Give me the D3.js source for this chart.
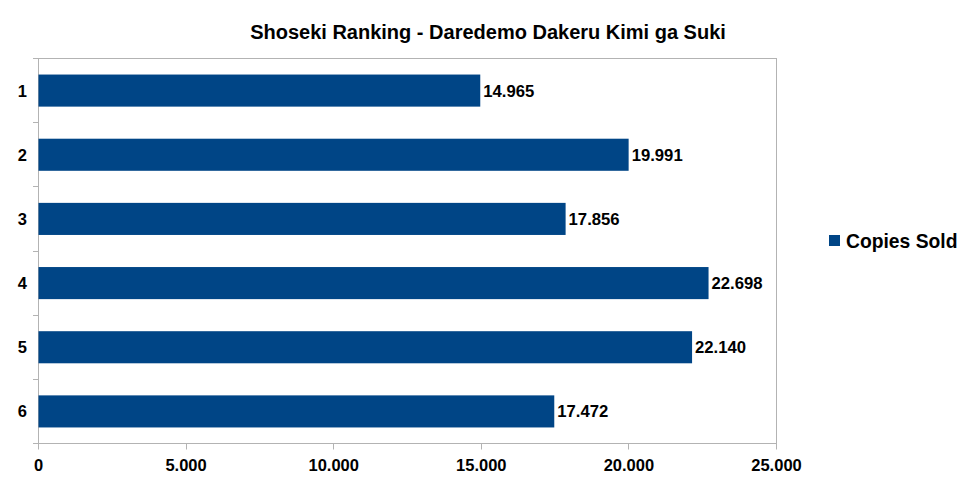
<!DOCTYPE html>
<html><head><meta charset="utf-8">
<script src="https://cdn.jsdelivr.net/npm/d3@7"></script>
<style>body{margin:0;background:#fff}svg{display:block;font-family:"Liberation Sans",Arial,sans-serif}</style>
</head><body><svg id="c" width="976" height="483"></svg>
<script>
const title = "Shoseki Ranking - Daredemo Dakeru Kimi ga Suki";
const categories = ["1","2","3","4","5","6"];
const copiesSold = [14965, 19991, 17856, 22698, 22140, 17472];
const xTicks = [0, 5000, 10000, 15000, 20000, 25000];
const seriesName = "Copies Sold";

const svg = d3.select("#c");
const L = 38.5, R = 776.5, T = 58.5, B = 443.5;
const color = "#004586", axisCol = "#b3b3b3";
const fmtTick = v => v === 0 ? "0" : d3.format(",")(v).replace(/,/g,".");
const fmtVal = v => d3.format(",")(v).replace(/,/g,".");

const x = d3.scaleLinear().domain([0, 25000]).range([L, R]);
const y = d3.scaleBand().domain(categories).range([T, B]).paddingInner(0.5).paddingOuter(0.25);
const yb = d3.scaleBand().domain(categories).range([T, B]);

svg.append("text").attr("x", 488).attr("y", 39).attr("text-anchor","middle")
  .attr("font-size", 20).attr("font-weight","bold").text(title);

// frame
svg.append("rect").attr("x", L).attr("y", T).attr("width", R-L).attr("height", B-T)
  .attr("fill","none").attr("stroke", axisCol).attr("stroke-width",1);

// bars
svg.selectAll("rect.bar").data(categories).join("rect").attr("class","bar")
  .attr("x", L).attr("y", d => y(d)).attr("width", (d,i) => x(copiesSold[i]) - L)
  .attr("height", y.bandwidth()).attr("fill", color);

// value labels
svg.selectAll("text.val").data(categories).join("text").attr("class","val")
  .attr("x", (d,i) => x(copiesSold[i]) + 3).attr("y", d => y(d) + y.bandwidth()/2 + 6)
  .attr("font-size", 16.7).attr("font-weight","bold").text((d,i) => fmtVal(copiesSold[i]));

// left ticks
const bounds = categories.map(c => yb(c)).concat([B]);
svg.selectAll("line.lt").data(bounds).join("line").attr("class","lt")
  .attr("x1", L-5.5).attr("x2", L).attr("y1", d => Math.round(d-0.5)+0.5).attr("y2", d => Math.round(d-0.5)+0.5)
  .attr("stroke", axisCol);
svg.selectAll("text.cat").data(categories).join("text").attr("class","cat")
  .attr("x", 27).attr("y", d => yb(d) + yb.bandwidth()/2 + 6).attr("text-anchor","end")
  .attr("font-size", 16.5).attr("font-weight","bold").text(d => d);

// bottom ticks
svg.selectAll("line.bt").data(xTicks).join("line").attr("class","bt")
  .attr("x1", d => Math.round(x(d)-0.5)+0.5).attr("x2", d => Math.round(x(d)-0.5)+0.5)
  .attr("y1", B).attr("y2", B+6).attr("stroke", axisCol);
svg.selectAll("text.xt").data(xTicks).join("text").attr("class","xt")
  .attr("x", d => x(d)).attr("y", 471).attr("text-anchor","middle")
  .attr("font-size", 16.5).attr("font-weight","bold").text(d => fmtTick(d));

// legend
svg.append("rect").attr("x", 829).attr("y", 235).attr("width", 11).attr("height", 11).attr("fill", color);
svg.append("text").attr("x", 846).attr("y", 248).attr("font-size", 19.3).attr("font-weight","bold").text(seriesName);
</script></body></html>
